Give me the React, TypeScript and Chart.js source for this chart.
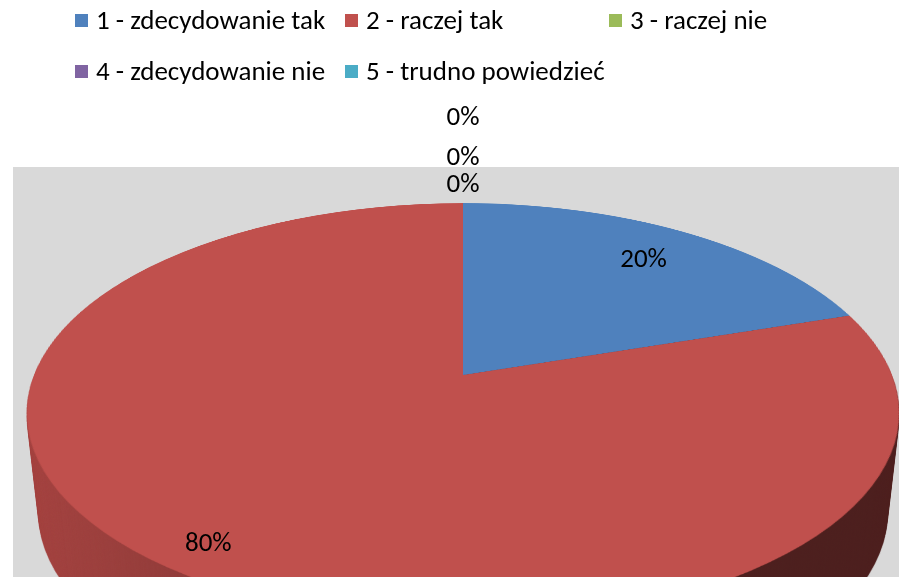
import React, { useEffect, useRef } from 'react';
import { Chart, registerables } from 'chart.js';

Chart.register(...registerables);

// ---- data ----
const categories = [
  '1 - zdecydowanie tak',
  '2 - raczej tak',
  '3 - raczej nie',
  '4 - zdecydowanie nie',
  '5 - trudno powiedzieć',
];
const shares = [20, 80, 0, 0, 0];
const sliceColors = ['#4f81bd', '#c0504d', '#9bbb59', '#8064a2', '#4bacc6'];

// ---- layout / style constants ----
const W = 899;
const H = 577;
const FONT_FAMILY = 'Carlito, Calibri, Lato, "Liberation Sans", sans-serif';
const FONT = `27px ${FONT_FAMILY}`;
const PLOT = { x: 13, y: 167, color: '#d9d9d9' };
// perspective projection of the pie disk
const X0 = 463;
const Y0 = 375;
const A = 429;
const B = 203;
const KAPPA = 0.181;
const DEPTH = 100;
const BOTTOM_SHRINK = 0.027;
const RS = 440;
const PAD = 4;

function project(u: number, v: number) {
  const den = 1 - KAPPA * v;
  return { x: X0 + (A * u) / den, y: Y0 + (B * v) / den };
}

function warp(target: CanvasRenderingContext2D, src: HTMLCanvasElement, dy: number, ws: number, maxY: number) {
  const c = RS + PAD;
  const S = src.width;
  const yTop = Math.floor(Y0 - B / (1 + KAPPA) + dy) - 1;
  const yBot = Math.min(maxY, Math.ceil(Y0 + B / (1 - KAPPA) + dy) + 1);
  for (let y = yTop; y < yBot; y++) {
    const t = y + 0.5 - Y0 - dy;
    const v = t / (B + KAPPA * t);
    if (v < -1.01 || v > 1.01) continue;
    const dv = B / Math.pow(B + KAPPA * t, 2);
    const sh = Math.max(1, dv * RS);
    const sc = (A / (1 - KAPPA * v)) * ws;
    let sy = c + v * RS - sh / 2;
    sy = Math.max(0, Math.min(S - sh, sy));
    target.drawImage(src, 0, sy, S, sh, X0 - (c / RS) * sc, y, (S / RS) * sc, 1);
  }
}

const pie3d = {
  id: 'pie3d',
  beforeDraw(chart: any) {
    const ctx: CanvasRenderingContext2D = chart.ctx;
    ctx.save();
    ctx.fillStyle = '#ffffff';
    ctx.fillRect(0, 0, W, H);
    ctx.fillStyle = PLOT.color;
    ctx.fillRect(PLOT.x, PLOT.y, W - PLOT.x, H - PLOT.y);

    // legend
    const cols = [75, 345, 609];
    const rows = [21, 72];
    ctx.font = FONT;
    ctx.textBaseline = 'middle';
    ctx.textAlign = 'left';
    categories.forEach((label, i) => {
      const cx = cols[i % 3];
      const cy = rows[Math.floor(i / 3)];
      ctx.fillStyle = sliceColors[i];
      ctx.fillRect(cx, cy - 7, 13, 13);
      ctx.fillStyle = '#000000';
      ctx.fillText(label, cx + 21, cy + 1);
    });
    ctx.restore();
  },
  beforeDatasetsDraw(chart: any) {
    const ctx: CanvasRenderingContext2D = chart.ctx;
    const meta = chart.getDatasetMeta(0);
    const arcs = meta.data;
    if (!arcs.length) return false;
    const R = arcs[0].outerRadius;
    const cx = arcs[0].x;
    const cy = arcs[0].y;
    const S = Math.ceil(2 * (RS + PAD));
    const off = document.createElement('canvas');
    off.width = S;
    off.height = S;
    const octx = off.getContext('2d')!;
    const f = RS / R;
    octx.setTransform(f, 0, 0, f, RS + PAD - cx * f, RS + PAD - cy * f);
    arcs.forEach((a: any) => a.draw(octx, chart.chartArea));
    octx.setTransform(1, 0, 0, 1, 0, 0);

    // side wall
    const side = document.createElement('canvas');
    side.width = W;
    side.height = H;
    const sctx = side.getContext('2d')!;
    for (let d = DEPTH; d >= 1; d--) {
      warp(sctx, off, d, 1 - (BOTTOM_SHRINK * d) / DEPTH, H);
    }
    sctx.globalCompositeOperation = 'source-atop';
    const g = sctx.createLinearGradient(0, 0, W, 0);
    g.addColorStop(0.0, 'rgba(0,0,0,0.12)');
    g.addColorStop(0.03, 'rgba(0,0,0,0.14)');
    g.addColorStop(0.26, 'rgba(0,0,0,0.27)');
    g.addColorStop(0.52, 'rgba(0,0,0,0.5)');
    g.addColorStop(0.74, 'rgba(0,0,0,0.6)');
    g.addColorStop(1.0, 'rgba(0,0,0,0.6)');
    sctx.fillStyle = g;
    sctx.fillRect(0, 0, W, H);

    ctx.save();
    ctx.drawImage(side, 0, 0);
    warp(ctx, off, 0, 1, H);

    // value labels
    const total = shares.reduce((s, v) => s + v, 0);
    ctx.font = FONT;
    ctx.fillStyle = '#000000';
    ctx.textAlign = 'center';
    ctx.textBaseline = 'middle';
    const zeroOffsets = [18, 45, 85];
    let zi = 0;
    arcs.forEach((a: any, i: number) => {
      const pct = Math.round((shares[i] / total) * 100);
      const text = `${pct}%`;
      const mid = (a.startAngle + a.endAngle) / 2;
      if (shares[i] === 0) {
        const p = project(Math.cos(mid), Math.sin(mid));
        ctx.fillText(text, p.x, p.y - zeroOffsets[zi++ % zeroOffsets.length]);
      } else {
        const r = pct < 50 ? 0.8 : 0.88;
        const p = project(r * Math.cos(mid), r * Math.sin(mid));
        ctx.fillText(text, p.x, p.y + 3);
      }
    });
    ctx.restore();
    return false;
  },
};

export default function App() {
  const ref = useRef<HTMLCanvasElement | null>(null);
  useEffect(() => {
    if (!ref.current) return;
    const chart = new Chart(ref.current, {
      type: 'pie',
      data: {
        labels: categories,
        datasets: [
          {
            data: shares,
            backgroundColor: sliceColors,
            borderWidth: 0,
          },
        ],
      },
      options: {
        responsive: false,
        maintainAspectRatio: false,
        devicePixelRatio: 1,
        animation: false,
        plugins: {
          legend: { display: false },
          tooltip: { enabled: false },
        },
      },
      plugins: [pie3d],
    });
    return () => chart.destroy();
  }, []);
  return (
    <div style={{ position: 'absolute', left: 0, top: 0, width: W, height: H }}>
      <canvas ref={ref} width={W} height={H} style={{ display: 'block' }} />
    </div>
  );
}
